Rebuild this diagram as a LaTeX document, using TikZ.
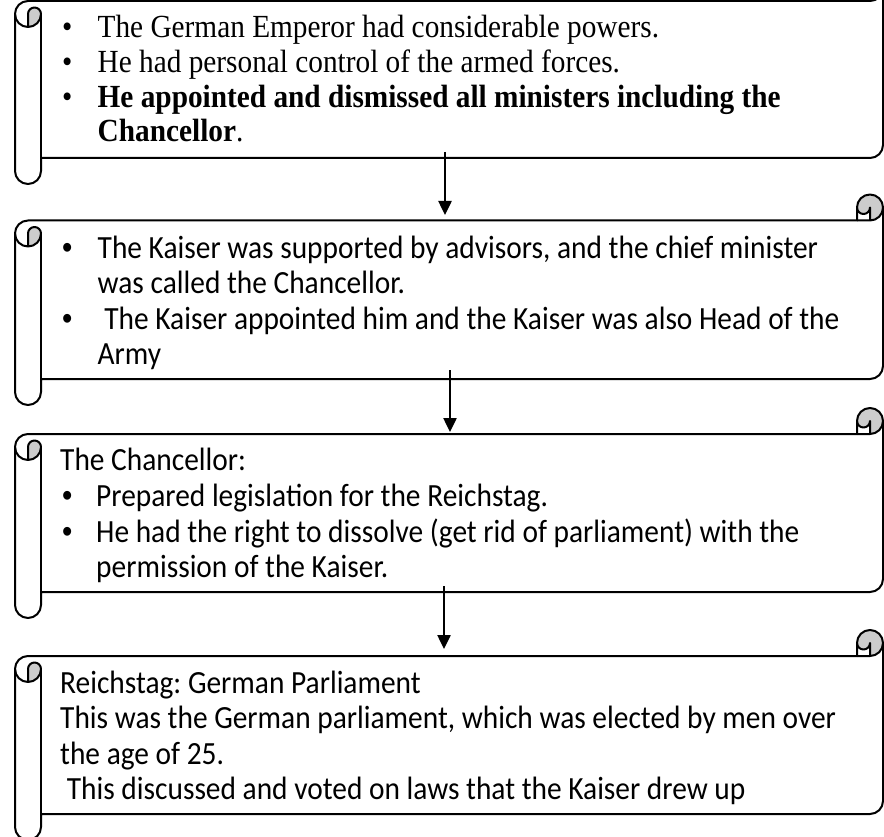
\documentclass[tikz,border=0pt]{standalone}
\usepackage{graphicx}
\usepackage{fontspec}
\setmainfont{Liberation Serif}
\newfontfamily\calib{Carlito}
\newfontfamily\arialb{Liberation Sans}
\usetikzlibrary{arrows.meta}
\definecolor{rollgray}{RGB}{204,204,204}
\newcommand{\bul}[1]{\makebox[#1][l]{•}}
\newcommand{\sbul}[1]{\makebox[#1][l]{\arialb •}}
\newcommand{\tx}[1]{\scalebox{1}[1.1]{#1}}
% scroll shape: #1 = top, #2 = bottom (y grows downward)
\newcommand{\scrollshape}[2]{%
  \pgfmathsetmacro\Ya{#1+13}%
  \pgfmathsetmacro\Yb{#1+26}%
  \pgfmathsetmacro\Yc{#1+39}%
  \pgfmathsetmacro\Yd{#1+52}%
  \pgfmathsetmacro\Ye{#2-39}%
  \pgfmathsetmacro\Yf{#2-26}%
  \pgfmathsetmacro\Yg{#2-13}%
  \fill[white] (15,\Yc) arc[start angle=180,delta angle=90,radius=13] -- (857,\Yb) -- (857,\Ya)
     arc[start angle=180,delta angle=180,radius=13] -- (883,\Ye)
     arc[start angle=0,delta angle=90,radius=13] -- (41,\Yf) -- (41,\Yg)
     arc[start angle=0,delta angle=180,radius=13] -- cycle;
  \fill[rollgray] (28,\Yd) arc[start angle=90,delta angle=-90,radius=13]
     arc[start angle=0,delta angle=-180,radius=6.5] -- cycle;
  \fill[rollgray] (870,\Yb) arc[start angle=90,delta angle=-270,radius=13]
     arc[start angle=180,delta angle=-180,radius=6.5] -- cycle;
  \draw[scrollline] (15,\Yc) arc[start angle=180,delta angle=90,radius=13] -- (857,\Yb) -- (857,\Ya)
     arc[start angle=180,delta angle=180,radius=13] -- (883,\Ye)
     arc[start angle=0,delta angle=90,radius=13] -- (41,\Yf) -- (41,\Yg)
     arc[start angle=0,delta angle=180,radius=13] -- cycle;
  \draw[scrollline] (857,\Yb) -- (870,\Yb) arc[start angle=90,delta angle=-90,radius=13];
  \draw[scrollline] (870,\Yb) -- (870,\Ya) arc[start angle=0,delta angle=180,radius=6.5];
  \draw[scrollline] (28,\Yd) -- (28,\Yc) arc[start angle=180,delta angle=180,radius=6.5]
     arc[start angle=0,delta angle=180,radius=13];
  \draw[scrollline] (41,\Yc) -- (41,\Yf);
}
\begin{document}
\begin{tikzpicture}[x=1pt,y=-1pt,
  scrollline/.style={line width=2pt,line join=round,draw=black},
  serif/.style={inner sep=0pt,anchor=base west,font=\frenchspacing\fontsize{29.3}{35}\selectfont},
  sans/.style={inner sep=0pt,anchor=base west,font=\frenchspacing\calib\fontsize{29.4}{35}\selectfont},
  arr/.style={line width=2.5pt,-{Triangle[length=14pt,width=13pt]}}]
\useasboundingbox (0,0) rectangle (884,837);
\fill[white] (0,0) rectangle (884,837);
\clip (0,0) rectangle (884,837);
\scrollshape{-25}{184}
\scrollshape{194.5}{405}
\scrollshape{408}{618}
\scrollshape{630}{840}
% scroll 1
\node[serif] (s1a) at (62,38) {\tx{\bul{35.5pt}The German Emperor had considerable powers.}};
\node[serif] (s1b) at (62,73) {\tx{\bul{35.5pt}He had personal control of the armed forces.}};
\node[serif] (s1c) at (62,108) {\tx{\bul{35.5pt}\textbf{He appointed and dismissed all ministers including the}}};
\node[serif] (s1d) at (97.5,142) {\tx{\textbf{Chancellor}.}};
% scroll 2
\node[sans] (s2a) at (62,259) {\tx{\sbul{35.5pt}The Kaiser was supported by advisors, and the chief minister}};
\node[sans] (s2b) at (97.5,294) {\tx{was called the Chancellor.}};
\node[sans] (s2c) at (62,329) {\tx{\sbul{35.5pt}\ The Kaiser appointed him and the Kaiser was also Head of the}};
\node[sans] (s2d) at (97.5,364) {\tx{Army}};
% scroll 3
\node[sans] (s3a) at (60,470) {\tx{The Chancellor:}};
\node[sans] (s3b) at (62,506) {\tx{\sbul{34pt}Prepared legislation for the Reichstag.}};
\node[sans] (s3c) at (62,542) {\tx{\sbul{34pt}He had the right to dissolve (get rid of parliament) with the}};
\node[sans] (s3d) at (96,577) {\tx{permission of the Kaiser.}};
% scroll 4
\node[sans] (s4a) at (60,693) {\tx{Reichstag: German Parliament}};
\node[sans] (s4b) at (60,728.5) {\tx{This was the German parliament, which was elected by men over}};
\node[sans] (s4c) at (60,764) {\tx{the age of 25.}};
\node[sans] (s4d) at (60,799) {\tx{\ This discussed and voted on laws that the Kaiser drew up}};
% arrows
\coordinate (a1s) at (445,152);
\coordinate (a1e) at (445,215);
\coordinate (a2s) at (450,370);
\coordinate (a2e) at (450,432);
\coordinate (a3s) at (444,586);
\coordinate (a3e) at (444,649);
\draw[arr] (a1s) -- (a1e);
\draw[arr] (a2s) -- (a2e);
\draw[arr] (a3s) -- (a3e);
\end{tikzpicture}
\end{document}
